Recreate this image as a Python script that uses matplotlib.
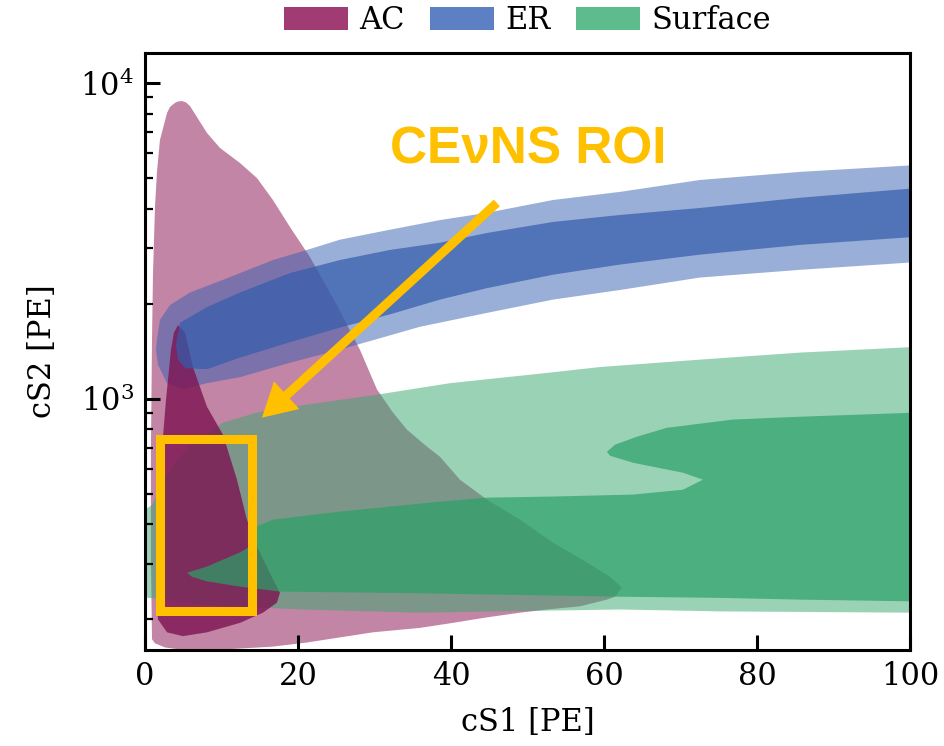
import matplotlib
matplotlib.use("Agg")
import matplotlib.pyplot as plt
from matplotlib.patches import Patch, Rectangle, FancyArrowPatch, ArrowStyle
from matplotlib.ticker import NullFormatter

plt.rcParams['font.family'] = ['DejaVu Serif']
plt.rcParams['mathtext.fontset'] = 'dejavuserif'

# ---- contour outlines (cS1 [PE], cS2 [PE]) ----
# AC: outer (95%) and inner (68%) regions
ac_outer_cs1 = [0.92, 0.78, 0.78, 0.92, 1.05, 1.31, 1.57, 1.96, 2.88, 3.27, 3.92, 4.31,
                4.84, 5.36, 5.88, 6.80,
                8.10, 9.80, 12.42, 14.64, 16.73, 18.95, 21.57, 25.10, 28.10, 30.33,
                32.42, 34.25, 36.86, 38.56, 41.18, 44.71, 49.02, 53.33, 57.78, 60.78,
                62.35, 61.44, 60.39, 56.86, 52.55, 49.02, 44.71, 40.26, 35.95, 29.80,
                21.18, 16.73, 11.11, 5.88, 2.61, 1.31]
ac_outer_cs2 = [173, 309, 690, 1540, 2500, 4050, 5230, 6600, 8030, 8400, 8650, 8740,
                8770, 8680, 8460, 7800,
                6950, 6230, 5580, 5000, 4260, 3500, 2810, 1980, 1430, 1070,
                904, 798, 705, 655, 554, 479, 414, 350, 303, 273,
                252, 236, 231, 220, 215, 210, 203, 195, 188, 182,
                169, 164, 161, 159, 163, 168]

ac_inner_cs1 = [4.31, 5.23, 6.27, 8.10, 10.20, 12.03, 13.33, 14.64, 16.73, 17.65, 17.25,
                15.42, 12.42, 8.10, 4.97, 2.88, 1.70, 1.57, 1.83, 2.22, 2.75, 3.40, 3.79]
ac_inner_cs2 = [1710, 1620, 1260, 944, 769, 554, 414, 340, 268, 243, 226,
                210, 195, 182, 177, 182, 200, 231, 377, 690, 993, 1430, 1620]

# ER band
er_outer_cs1 = [1.57, 1.96, 3.27, 5.88, 10.20, 16.73, 21.18, 25.49, 32.03, 38.56, 44.71,
                53.33, 62.09, 72.55, 85.62, 101.0,
                101.0, 85.62, 72.55, 62.09, 53.33, 44.71, 35.95, 25.49, 18.95, 12.42,
                8.10, 4.97, 2.88, 1.70, 1.44]
er_outer_cs2 = [1540, 1780, 1980, 2170, 2380, 2750, 2960, 3190, 3430, 3680, 3880,
                4260, 4520, 4930, 5230, 5500,
                2710, 2560, 2420, 2210, 2060, 1870, 1690, 1430, 1300, 1170,
                1120, 1070, 1120, 1280, 1430]

er_inner_cs1 = [4.05, 4.58, 8.10, 12.42, 18.95, 25.49, 32.03, 38.56, 44.71, 53.33, 62.09,
                72.55, 85.62, 101.0,
                101.0, 85.62, 72.55, 62.09, 53.33, 44.71, 38.56, 32.03, 25.49, 18.95,
                12.42, 8.10, 5.23, 4.31]
er_inner_cs2 = [1480, 1740, 1950, 2170, 2500, 2750, 2960, 3120, 3350, 3630, 3820,
                4020, 4330, 4650,
                3260, 3070, 2860, 2660, 2470, 2240, 2060, 1850, 1680, 1510,
                1350, 1240, 1250, 1330]

# Surface events
sf_outer_cs1 = [-0.65, -0.65, 1.00, 2.35, 5.88, 10.20, 14.64, 21.18, 30.33, 39.87, 52.94,
                59.48, 72.55, 85.62, 101.0,
                101.0, 75.16, 62.09, 35.95, 20.26, 7.19]
sf_outer_cs2 = [236, 435, 462, 554, 715, 840, 904, 958, 1030, 1120, 1210,
                1260, 1330, 1400, 1460,
                210, 212, 215, 210, 215, 223]

sf_inner_cs1 = [5.49, 8.10, 12.42, 14.12, 14.64, 16.73, 25.49, 38.56, 44.71, 53.33, 63.79,
                70.33, 72.94, 70.33, 63.79, 60.78, 60.39, 61.44, 64.31, 68.24, 76.86,
                85.62, 101.0,
                101.0, 85.62, 75.16, 62.09, 35.95, 17.65, 12.42, 8.10, 6.14]
sf_inner_cs2 = [281, 294, 326, 345, 394, 414, 439, 472, 486, 490, 497,
                515, 554, 583, 627, 660, 679, 715, 758, 809, 859,
                877, 904,
                228, 231, 234, 236, 242, 245, 254, 264, 273]

# ---- annotation ----
roi_cs1 = [2.0, 14.0]
roi_cs2 = [213, 745]
arrow_tail = (46.0, 4170)
arrow_head = (15.3, 871)
label_pos = (32.0, 5580)

series = ['AC', 'ER', 'Surface']
outer_colors = ['#890D4D', '#3761B1', '#37A76F']
inner_colors = ['#7D1351', '#335CAC', '#2AA168']
inner_alphas = [0.8, 0.7, 0.7]
legend_colors = ['#A03C73', '#5D7FC4', '#5EBB8C']
roi_color = '#FFC000'

fig = plt.figure(figsize=(9.45, 7.46), dpi=100)
ax = fig.add_axes([0.1534, 0.1287, 0.8095, 0.8003])

outer_regions = [(ac_outer_cs1, ac_outer_cs2), (er_outer_cs1, er_outer_cs2),
                 (sf_outer_cs1, sf_outer_cs2)]
inner_regions = [(ac_inner_cs1, ac_inner_cs2), (er_inner_cs1, er_inner_cs2),
                 (sf_inner_cs1, sf_inner_cs2)]

# outer levels of every population first, then the inner levels on top
for (xs, ys), c in zip(outer_regions, outer_colors):
    ax.fill(xs, ys, color=c, alpha=0.5, lw=0)
for (xs, ys), c, a in zip(inner_regions, inner_colors, inner_alphas):
    ax.fill(xs, ys, color=c, alpha=a, lw=0)

ax.set_yscale('log')
ax.set_xlim(0, 100)
ax.set_ylim(160, 12450)
ax.set_xticks([0, 20, 40, 60, 80, 100])
ax.yaxis.set_minor_formatter(NullFormatter())

for s in ax.spines.values():
    s.set_linewidth(2.2)
ax.tick_params(which='major', direction='in', length=10.5, width=2.2,
               labelsize=22, pad=8, top=False, right=False)
ax.tick_params(which='minor', direction='in', length=6, width=1.6,
               top=False, right=False)
ax.set_xlabel('cS1 [PE]', fontsize=22, labelpad=11)
ax.set_ylabel('cS2 [PE]', fontsize=22, labelpad=16)

# ROI box, arrow and label
ax.add_patch(Rectangle((roi_cs1[0], roi_cs2[0]), roi_cs1[1] - roi_cs1[0],
                       roi_cs2[1] - roi_cs2[0], fill=False, ec=roi_color,
                       lw=6.5, joinstyle='miter', zorder=5))
ax.add_patch(FancyArrowPatch(arrow_tail, arrow_head,
                             arrowstyle=ArrowStyle.Simple(head_length=24, head_width=27,
                                                          tail_width=6.5),
                             mutation_scale=1, color=roi_color, lw=0,
                             shrinkA=0, shrinkB=0, zorder=6))
ax.text(label_pos[0], label_pos[1], 'CEνNS ROI', color=roi_color,
        family=['Liberation Sans', 'DejaVu Sans'], fontweight='bold', fontsize=37,
        ha='left', va='baseline', zorder=6)

handles = [Patch(facecolor=c, label=n) for c, n in zip(legend_colors, series)]
fig.legend(handles=handles, loc='center', bbox_to_anchor=(0.558, 0.972), ncol=3,
           frameon=False, fontsize=22, handlelength=2.1, handleheight=0.8,
           handletextpad=0.35, columnspacing=0.85, borderaxespad=0)

fig.savefig('out.png', dpi=100)
